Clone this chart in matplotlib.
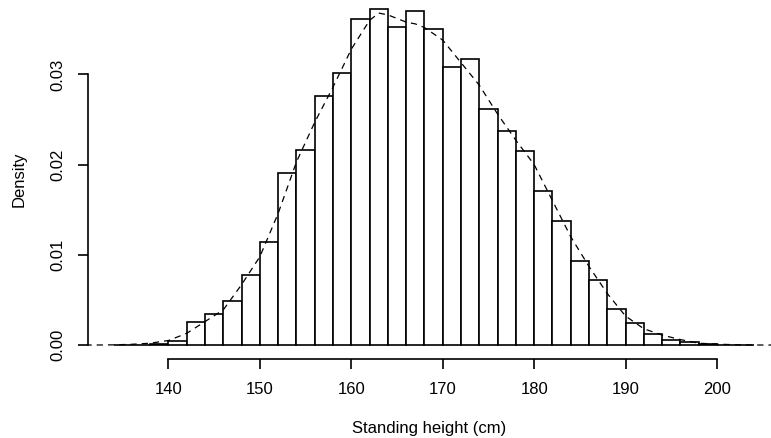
import matplotlib.pyplot as plt
import numpy as np

plt.rcParams['font.family'] = ['Liberation Sans', 'DejaVu Sans']

# histogram bins (left edges, width 2) and densities
bin_left = list(range(134, 204, 2))
density_bins = [0.0, 0.0, 0.0001, 0.0004, 0.0025, 0.0034, 0.0049, 0.0078,
                0.0114, 0.0191, 0.0216, 0.0276, 0.0302, 0.0361, 0.0373,
                0.0353, 0.0370, 0.0350, 0.0308, 0.0317, 0.0262, 0.0237,
                0.0215, 0.0171, 0.0138, 0.0093, 0.0072, 0.0040, 0.0024,
                0.0012, 0.00055, 0.0003, 0.00014, 0.0, 0.0]

# kernel density curve
kde_x = [126, 132, 134, 136, 138, 140, 142, 144, 146, 148, 150, 152, 154,
         156, 158, 160, 162, 163, 164, 166, 167, 168, 170, 172, 174, 176,
         178, 180, 182, 184, 186, 188, 190, 192, 194, 196, 198, 200, 202,
         204, 210]
kde_y = [0.0, 0.0, 0.00002, 0.00008, 0.0002, 0.0005, 0.0013, 0.0026,
         0.0039, 0.0067, 0.0098, 0.0146, 0.0203, 0.0247, 0.0286, 0.0328,
         0.0360, 0.0368, 0.0366, 0.0358, 0.0356, 0.0352, 0.0338, 0.0313,
         0.0288, 0.0256, 0.0227, 0.0200, 0.0160, 0.0120, 0.0087, 0.0057,
         0.0032, 0.0018, 0.0011, 0.0006, 0.0002, 0.0001, 0.00003, 0.0, 0.0]

x_ticks = [140, 150, 160, 170, 180, 190, 200]
y_ticks = [0.00, 0.01, 0.02, 0.03]

fig = plt.figure(figsize=(7.71, 4.38), dpi=100)
ax = fig.add_axes([88 / 771, 79 / 438, 683 / 771, 359 / 438])

ax.bar(bin_left, density_bins, width=2, align='edge', color='white',
       edgecolor='black', linewidth=1.2)
ax.plot(kde_x, kde_y, color='black', linewidth=0.9, linestyle=(0, (5, 4)))

ax.set_xlim(131.2, 205.9)
ax.set_ylim(-0.00155, 0.03825)

for side in ['top', 'right']:
    ax.spines[side].set_visible(False)
ax.spines['bottom'].set_bounds(140, 200)
ax.spines['left'].set_bounds(0, 0.03)
ax.spines['bottom'].set_linewidth(1.2)
ax.spines['left'].set_linewidth(1.2)

ax.set_xticks(x_ticks)
ax.set_xticklabels([str(t) for t in x_ticks])
ax.set_yticks(y_ticks)
ax.set_yticklabels(['0.00', '0.01', '0.02', '0.03'], rotation=90, va='center')
ax.tick_params(axis='both', length=7.5, width=1.2, labelsize=12, colors='black')
ax.tick_params(axis='x', pad=9)
ax.tick_params(axis='y', pad=9)

ax.set_xlabel('Standing height (cm)', fontsize=12, labelpad=17)
ax.set_ylabel('Density', fontsize=12, labelpad=17)

fig.savefig('out.png', dpi=100)
